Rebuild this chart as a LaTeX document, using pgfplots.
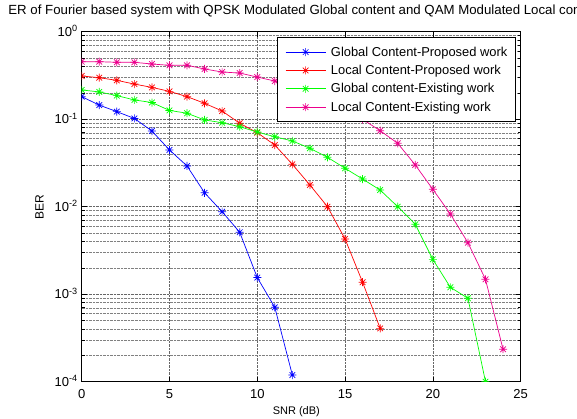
\documentclass[border=0pt]{standalone}
\usepackage{fontspec}
\setmainfont{Liberation Sans}
\usepackage{pgfplots}
\pgfplotsset{compat=1.18}
\pgfdeclareplotmark{mstar}{%
 \pgfpathmoveto{\pgfqpoint{-\pgfplotmarksize}{0pt}}\pgfpathlineto{\pgfqpoint{\pgfplotmarksize}{0pt}}%
 \pgfpathmoveto{\pgfqpoint{0pt}{-\pgfplotmarksize}}\pgfpathlineto{\pgfqpoint{0pt}{\pgfplotmarksize}}%
 \pgfpathmoveto{\pgfqpoint{-0.707\pgfplotmarksize}{-0.707\pgfplotmarksize}}\pgfpathlineto{\pgfqpoint{0.707\pgfplotmarksize}{0.707\pgfplotmarksize}}%
 \pgfpathmoveto{\pgfqpoint{-0.707\pgfplotmarksize}{0.707\pgfplotmarksize}}\pgfpathlineto{\pgfqpoint{0.707\pgfplotmarksize}{-0.707\pgfplotmarksize}}%
 \pgfusepathqstroke}
\begin{document}
\begin{tikzpicture}[font=\fontsize{12bp}{14bp}\selectfont]
\useasboundingbox (-81.7bp,-37.3bp) rectangle (495.3bp,381.7bp);
\clip (-81.7bp,-37.3bp) -- (495.3bp,-37.3bp) -- (495.3bp,381.7bp) -- (-74.3bp,381.7bp) -- (-74.3bp,356bp) -- (-81.7bp,356bp) -- cycle;
\begin{axis}[
  scale only axis, width=438.9bp, height=350bp,
  at={(0,0)}, anchor=south west,
  xmin=0, xmax=25, ymode=log, ymin=1e-4, ymax=1,
  xtick={0,5,10,15,20,25},
  ytick={1e-4,1e-3,1e-2,1e-1,1},
  yticklabels={10\textsuperscript{-4},10\textsuperscript{-3},10\textsuperscript{-2},10\textsuperscript{-1},10\textsuperscript{0}},
  minor ytick={2e-4,3e-4,4e-4,5e-4,6e-4,7e-4,8e-4,9e-4,2e-3,3e-3,4e-3,5e-3,6e-3,7e-3,8e-3,9e-3,2e-2,3e-2,4e-2,5e-2,6e-2,7e-2,8e-2,9e-2,0.2,0.3,0.4,0.5,0.6,0.7,0.8,0.9},
  /pgf/number format/assume math mode=true,
  tick label style={font=\fontsize{13bp}{15bp}\selectfont},
  xticklabel style={anchor=base, yshift=-16.3bp},
  yticklabel style={anchor=base east, yshift=-4.6bp, xshift=-0.5bp},
  tick pos=both, tick align=inside,
  major tick length=5bp, minor tick length=3bp,
  xmajorgrids, ymajorgrids, yminorgrids,
  major grid style={black!60, densely dotted, line width=0.5pt},
  minor grid style={black!50, densely dotted, line width=0.5pt},
  axis line style={line width=1.4bp},
  every tick/.style={black, line width=0.6pt},
  title={BER of Fourier based system with QPSK Modulated Global content and QAM Modulated Local content},
  title style={at={(axis description cs:0.5,1.0314)}, anchor=base, font=\fontsize{13.25bp}{15bp}\selectfont, inner sep=0pt},
  xlabel={SNR (dB)}, ylabel={BER},
  xlabel style={at={(axis description cs:0.489,-0.0951)}, anchor=base, font=\fontsize{11bp}{13bp}\selectfont, inner sep=0pt},
  ylabel style={at={(axis description cs:-0.0961,0.5)}, anchor=center, font=\fontsize{12bp}{14bp}\selectfont, inner sep=0pt},
  clip marker paths=true,
  legend style={at={(axis description cs:0.989,0.984)}, anchor=north east, draw=black, fill=white,
    line width=0.8pt, font=\fontsize{12.9bp}{15bp}\selectfont, row sep=7.5bp,
    inner xsep=8bp, inner ysep=9bp,
    nodes={inner sep=0pt},
    /tikz/every odd column/.append style={column sep=5bp}},
  legend cell align=left,
  legend image code/.code={\draw[mark repeat=2,mark phase=2,#1] plot coordinates {(0bp,0bp)(20bp,0bp)(40bp,0bp)};},
  every axis plot/.append style={line width=0.7pt, mark=mstar, mark size=4bp, mark options={solid, line width=0.7pt}},
]
\addplot[color=blue] coordinates {(0,0.181)(1,0.145)(2,0.122)(3,0.102)(4,0.0733)(5,0.0445)(6,0.0292)(7,0.0144)(8,0.00877)(9,0.0051)(10,0.00155)(11,0.000708)(12,0.000119)};
\addlegendentry{Global Content-Proposed work}
\addplot[color=red] coordinates {(0,0.312)(1,0.298)(2,0.278)(3,0.252)(4,0.231)(5,0.208)(6,0.181)(7,0.152)(8,0.124)(9,0.0898)(10,0.0701)(11,0.0507)(12,0.0305)(13,0.0177)(14,0.0100)(15,0.00428)(16,0.00137)(17,0.000407)};
\addlegendentry{Local Content-Proposed work}
\addplot[color=green] coordinates {(0,0.216)(1,0.205)(2,0.186)(3,0.166)(4,0.155)(5,0.126)(6,0.117)(7,0.098)(8,0.0912)(9,0.082)(10,0.0714)(11,0.063)(12,0.0564)(13,0.0465)(14,0.0367)(15,0.0275)(16,0.0207)(17,0.0155)(18,0.0100)(19,0.0063)(20,0.0025)(21,0.0012)(22,0.000898)(23,0.0001)};
\addlegendentry{Global content-Existing work}
\addplot[color=magenta] coordinates {(0,0.454)(1,0.454)(2,0.447)(3,0.447)(4,0.427)(5,0.413)(6,0.413)(7,0.375)(8,0.346)(9,0.337)(10,0.303)(11,0.273)(12,0.23)(13,0.19)(14,0.155)(15,0.125)(16,0.0997)(17,0.0739)(18,0.053)(19,0.030)(20,0.0158)(21,0.00826)(22,0.00388)(23,0.00148)(24,0.000235)};
\addlegendentry{Local Content-Existing work}
\end{axis}
\end{tikzpicture}
\end{document}
